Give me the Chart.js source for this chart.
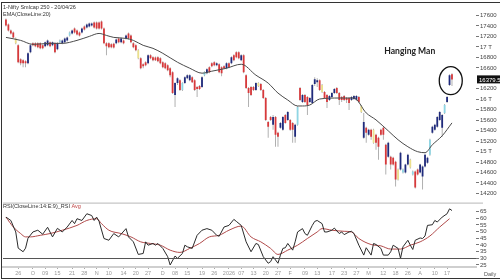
<!DOCTYPE html>
<html>
<head>
<meta charset="utf-8">
<script src="https://cdn.jsdelivr.net/npm/chart.js@4.4.1/dist/chart.umd.min.js"></script>
<style>
  html, body { margin: 0; padding: 0; background: #fff; }
  #wrap { position: relative; width: 500px; height: 280px; overflow: hidden; background: #fff; }
  #price { position: absolute; left: 0; top: 0; }
  #rsi { position: absolute; left: 0; top: 199px; }
  #frame { position: absolute; left: 1px; top: 2px; width: 499px; height: 275px;
           border-top: 1px solid #333; border-left: 1px solid #333; border-bottom: 1px solid #333;
           pointer-events: none; }
</style>
</head>
<body>
<div id="wrap">
  <canvas id="price" width="500" height="206"></canvas>
  <canvas id="rsi" width="500" height="81"></canvas>
  <div id="frame"></div>
</div>
<script>
// x axis date labels and the candle index they sit under
const dateLabels = ["26","O","09","15","21","28","N","10","14","20","27","D","08","15","19","26","2026","07","13","20","27","F","09","13","17","23","27","M","12","18","26","A","10","17"];
const labelAt = [5,11,16,21,27,32,37,42,48,53,58,64,69,74,80,85,91,96,101,106,111,116,122,127,133,138,143,148,154,159,164,169,175,180];

// daily candles, Nifty Smallcap 250
const open = [17524,17429,17315,17277,17163,17030,16764,16745,16726,16688,
  16897,17068,17068,17068,17068,17030,17011,17030,17087,17030,
  17068,16954,17087,17068,17087,17125,17220,17258,17353,17315,
  17277,17277,17391,17372,17391,17410,17467,17467,17467,17486,
  17353,17068,17068,17049,17060,17068,17163,17087,17125,17163,
  17258,17220,17068,17030,16935,16783,16669,16707,16688,16840,
  16802,16800,16802,16783,16707,16688,16650,16593,16517,16080,
  16308,16365,16175,16308,16403,16365,16422,16365,16232,16251,
  16232,16460,16498,16612,16688,16707,16650,16669,16612,16631,
  16593,16688,16688,16840,16897,16897,16745,16840,16460,16213,
  16232,16232,16175,16308,16289,16175,16023,15567,15662,15510,
  15662,15358,15453,15415,15700,15605,15605,15548,15282,15510,
  16213,15947,16080,16042,15947,15928,16289,16327,16365,16270,
  16137,16080,15985,16042,16118,16213,16118,16042,16061,16023,
  16023,15985,16004,15985,16042,15871,15263,15453,15320,15415,
  15415,15320,15263,15415,15453,15130,14902,14902,14883,14807,
  14655,14655,14598,14598,14750,14845,14560,14617,14655,14598,
  14522,14712,14788,14940,15358,15415,15472,15605,15453,15738,
  15947,16270,16479];
const high = [17543,17448,17334,17296,17182,17049,16783,16764,16745,16897,
  17049,17087,17087,17087,17087,17049,17106,17144,17106,17106,
  17087,17087,17144,17144,17182,17201,17296,17334,17372,17334,
  17296,17372,17410,17448,17467,17467,17486,17486,17486,17505,
  17372,17087,17087,17068,17080,17163,17182,17182,17144,17239,
  17277,17239,17087,17049,16954,16802,16688,16726,16859,16859,
  16821,16815,16821,16802,16726,16707,16669,16612,16536,16327,
  16422,16384,16327,16441,16479,16479,16441,16384,16251,16270,
  16441,16536,16593,16631,16707,16726,16707,16688,16631,16650,
  16707,16707,16821,16859,16916,16916,16859,16859,16479,16232,
  16251,16251,16327,16327,16308,16194,16042,15586,15681,15700,
  15681,15377,15567,15681,15719,15776,15624,15567,15529,15871,
  16232,16099,16099,16061,16042,16289,16422,16403,16384,16289,
  16156,16099,16080,16137,16213,16232,16137,16061,16080,16042,
  16042,16061,16080,16080,16061,15890,15738,15472,15434,15434,
  15434,15339,15282,15434,15472,15149,15187,14921,14902,14826,
  14674,14997,14674,14769,14959,14864,14636,14636,14674,14769,
  14731,14959,14902,15244,15491,15529,15681,15776,15719,15909,
  16061,16479,16498];
const low = [17391,17296,17239,17163,17049,16688,16650,16612,16612,16669,
  16878,17011,16992,16973,16954,16954,16992,17011,16992,17011,
  16878,16935,17068,17049,17068,17106,17201,17239,17258,17220,
  17201,17258,17315,17353,17372,17391,17353,17334,17334,17334,
  17049,16840,16973,16973,16970,17049,17068,17068,17049,17144,
  17144,17068,16973,16916,16764,16574,16593,16631,16669,16764,
  16726,16730,16707,16669,16593,16574,16536,16422,16099,15852,
  16270,16156,16156,16289,16384,16346,16308,16156,16042,16175,
  16213,16441,16479,16498,16612,16631,16631,16498,16441,16574,
  16574,16593,16669,16726,16783,16764,16726,16498,16194,15852,
  16061,16156,16156,16232,16156,16004,15586,15263,15586,15415,
  15092,15092,15434,15396,15529,15586,15396,15168,15168,15491,
  15966,15928,15928,15700,15928,15909,16251,16232,16156,16118,
  16004,15833,15966,16023,16099,16099,15890,15947,15966,15928,
  15795,15966,15985,15966,15928,15738,15244,15168,15301,15225,
  15149,15035,14845,15301,15225,14560,14883,14655,14731,14332,
  14446,14636,14579,14579,14731,14674,14541,14294,14541,14579,
  14275,14693,14769,14921,15339,15396,15453,15586,15282,15719,
  15928,16251,16251];
const close = [17410,17315,17258,17182,17068,16707,16688,16688,16688,16878,
  17030,17030,17011,16992,16973,16973,17087,17125,17011,17087,
  16897,17068,17125,17125,17163,17182,17277,17315,17277,17239,
  17220,17353,17334,17429,17448,17448,17372,17353,17353,17353,
  17068,17011,16992,16992,16990,17144,17087,17163,17068,17220,
  17163,17087,16992,16935,16783,16593,16631,16650,16840,16783,
  16745,16745,16726,16688,16612,16593,16555,16460,16118,16308,
  16403,16175,16308,16422,16460,16460,16327,16175,16194,16194,
  16422,16517,16574,16517,16631,16650,16688,16517,16498,16593,
  16688,16612,16802,16745,16802,16783,16840,16517,16213,16118,
  16080,16175,16308,16251,16175,16023,15605,15472,15605,15662,
  15320,15282,15548,15662,15548,15757,15415,15415,15510,15852,
  15985,16080,15947,15890,16023,16270,16384,16365,16175,16137,
  16023,15947,16061,16118,16194,16118,15985,15985,15985,15985,
  15928,16042,16061,16061,15947,15757,15567,15358,15415,15282,
  15168,15168,15092,15320,15320,14750,15168,14750,14750,14465,
  14465,14978,14655,14750,14940,14693,14617,14313,14560,14750,
  14712,14940,14883,15225,15472,15510,15662,15757,15700,15890,
  16042,16460,16379.5];

// candles the software flags with its light colours
const cyanBars = [22,26,72,81,119,162,166,173,179];
const yellowBars = [4,54,103,129,145,150,160,165];

// EMA(20)
const emaIdx = [0,6,11,18,23,29,34,38,41,44,49,52,56,60,64,70,75,80,84,90,96,102,107,111,115,119,121,124,128,136,142,147,151,156,160,164,168,171,174,178,182];
const emaVal = [17182,17125,17049,17068,17068,17125,17201,17258,17220,17182,17163,17125,17030,16973,16878,16707,16593,16498,16536,16593,16669,16460,16308,16118,15985,15871,15871,15890,16004,16023,16023,15738,15605,15396,15225,15092,14997,14978,15130,15301,15548];

// RSI(14) and its 9 period average
const rsiIdx = [0,2,4,5,7,8,9,11,13,15,17,19,21,23,25,27,28,29,31,33,35,36,37,38,40,42,44,46,49,50,52,54,56,57,58,60,61,62,64,66,67,69,70,72,73,74,76,78,80,82,84,86,87,89,91,93,94,96,98,100,102,103,105,107,108,109,111,112,113,114,115,117,118,119,121,122,123,125,126,127,129,130,131,133,134,136,137,138,140,141,142,144,146,147,149,150,151,153,154,156,157,158,160,161,162,164,165,166,167,169,170,171,172,174,175,176,178,180,181,182];
const rsiVal = [60.8,58.3,49.7,37.6,34.9,37.6,45,49.7,51,48,53.2,46,52.4,49.7,53.4,58.3,55.9,59.6,58.3,63.3,62,58.3,60.8,57.6,44.8,43.5,48.5,46,52.2,46,42.3,32.9,33.6,42.3,39.8,41.1,39.8,41.1,37.4,31.2,25,31.7,30,33.6,39.8,38.6,37.4,47.2,51,52.2,51,47.2,46.5,53.4,54.6,59.1,57.6,54.6,42.3,34.9,41.1,40.3,31.2,26.3,27.5,31.2,26.3,32.4,37.4,37.9,41.1,36.1,42.3,49.7,52.2,48.5,47.2,54.6,57.6,58.3,55.9,49.7,49.7,51,52.6,48.5,49.7,47.7,49.7,50.2,48.5,39.8,32.4,37.9,32.4,41.1,40.3,37.4,32.4,32.4,34.9,39.8,37.4,30,38.6,43.5,39.8,36.6,43.5,45.2,44.8,46.7,54.6,55.1,58.3,57.1,60.8,63.3,67,65.7];
const avgIdx = [0,3,6,8,10,14,18,23,29,33,37,39,42,47,51,55,59,63,67,71,75,79,83,87,91,96,100,104,108,111,115,119,123,127,129,133,138,141,144,149,153,157,161,165,169,173,177,181];
const avgVal = [60.8,53.4,48.5,46,46,47.2,48.5,51,54.6,58.3,59.6,55.9,51,48.5,46,42.3,41.1,39.8,36.1,34.4,37.4,41.1,46,47.2,51,54.1,46,42.3,37.4,32.9,36.1,39.8,44.8,49.7,52.2,51,50.2,49.7,44.8,40.3,39.3,36.9,36.9,39.8,42.3,46.7,53.4,59.6];

// axis ticks
const priceTicks = [17600,17400,17200,17000,16800,16600,16200,16000,15800,15600,15400,15200,15000,14800,14600,14400,14200];
const priceTickLabels = ["17600","17400","17200","17 T","16800","16600","16200","16 T","15800","15600","15400","15200","15 T","14800","14600","14400","14200"];
const rsiTicks = [65,60,55,50,45,40,35,30,25];
const rsiLevel = 30;

const N = close.length;
const X_MIN = -1.2, X_MAX = 191.8;
const SMALL = '"Liberation Sans", Arial, sans-serif';

function bodyColor(i) {
  if (cyanBars.includes(i)) return '#8fd6e4';
  if (yellowBars.includes(i)) return '#ece08c';
  return close[i] >= open[i] ? '#1f2a7c' : '#d8393b';
}

const priceDecor = {
  id: 'priceDecor',
  afterDraw(chart) {
    const { ctx, chartArea: a, scales: { x, y } } = chart;
    ctx.save();
    ctx.fillStyle = '#333';
    ctx.font = '5.5px ' + SMALL;
    ctx.textBaseline = 'middle';
    ctx.fillText('1-Nifty Smlcap 250 - 20/04/26', 3, 7.5);
    ctx.fillText('EMA(CloseLine:20)', 3, 14);

    // ring round the last two candles
    const cx = (x.getPixelForValue(N - 2) + x.getPixelForValue(N - 1)) / 2;
    const top = y.getPixelForValue(Math.max(high[N - 1], high[N - 2]));
    const bot = y.getPixelForValue(Math.min(low[N - 1], low[N - 2]));
    const cy = (top + bot) / 2 + 1;
    ctx.beginPath();
    ctx.ellipse(cx, cy, 11.5, 14, 0, 0, Math.PI * 2);
    ctx.strokeStyle = '#111';
    ctx.lineWidth = 1.3;
    ctx.stroke();

    ctx.font = 'bold 10px "Liberation Sans Narrow", "Lato", sans-serif';
    ctx.fillStyle = '#222';
    ctx.textAlign = 'center';
    const label = 'Hanging Man';
    const w = ctx.measureText(label).width;
    const tx = cx - 41, ty = cy - 30;
    ctx.translate(tx, ty);
    if (w > 51) ctx.scale(51 / w, 1);
    ctx.fillText(label, 0, 0);
    ctx.setTransform(1, 0, 0, 1, 0, 0);

    // last price tag on the axis
    const py = y.getPixelForValue(close[N - 1]);
    ctx.fillStyle = '#111';
    ctx.fillRect(a.right + 1, py - 4, 500 - a.right - 1, 8);
    ctx.fillStyle = '#fff';
    ctx.textAlign = 'left';
    ctx.font = '6px ' + SMALL;
    ctx.fillText(String(close[N - 1]), a.right + 3, py + 0.5);
    ctx.restore();
  }
};

const rsiDecor = {
  id: 'rsiDecor',
  afterDraw(chart) {
    const { ctx, chartArea: a, scales: { y } } = chart;
    ctx.save();
    // separator between the two panels
    ctx.strokeStyle = '#b8b8b8';
    ctx.lineWidth = 1;
    ctx.beginPath();
    ctx.moveTo(a.left, a.top - 0.5);
    ctx.lineTo(483, a.top - 0.5);
    ctx.stroke();
    // 30 level
    const ly = Math.round(y.getPixelForValue(rsiLevel)) + 0.5;
    ctx.strokeStyle = '#555';
    ctx.beginPath();
    ctx.moveTo(a.left, ly);
    ctx.lineTo(a.right, ly);
    ctx.stroke();

    ctx.font = '5.5px ' + SMALL;
    ctx.textBaseline = 'middle';
    ctx.fillStyle = '#333';
    const t1 = 'RSI(CloseLine:14:E:9)_RSI';
    ctx.fillText(t1, 3, a.top + 3);
    ctx.fillStyle = '#c04545';
    ctx.fillText(' Avg', 3 + ctx.measureText(t1).width, a.top + 3);
    ctx.fillStyle = '#555';
    ctx.fillText('Daily', 484, 75);
    ctx.restore();
  }
};

const priceChart = new Chart(document.getElementById('price'), {
  type: 'bar',
  data: {
    datasets: [
      {
        type: 'line',
        data: emaIdx.map((v, k) => ({ x: v, y: emaVal[k] })),
        borderColor: '#4a4a4a',
        borderWidth: 1,
        pointRadius: 0,
        cubicInterpolationMode: 'monotone',
        order: 0
      },
      {
        data: close.map((c, i) => ({ x: i, y: [open[i], c] })),
        backgroundColor: close.map((c, i) => bodyColor(i)),
        barThickness: 1.8,
        inflateAmount: 0,
        grouped: false,
        order: 1
      },
      {
        data: close.map((c, i) => ({ x: i, y: [low[i], high[i]] })),
        backgroundColor: '#a8a8a8',
        barThickness: 0.9,
        inflateAmount: 0,
        grouped: false,
        order: 2
      }
    ]
  },
  options: {
    responsive: false,
    animation: false,
    events: [],
    layout: { padding: { left: 3, top: 4, right: 0, bottom: 4 } },
    plugins: { legend: { display: false }, tooltip: { enabled: false } },
    scales: {
      x: { type: 'linear', min: X_MIN, max: X_MAX, offset: false, display: false },
      y: {
        position: 'right',
        min: 14047,
        max: 17809,
        afterBuildTicks: s => { s.ticks = priceTicks.map(v => ({ value: v })); },
        afterFit: s => { s.width = 24; },
        ticks: {
          callback: (v, i) => priceTickLabels[i],
          font: { size: 6, family: SMALL },
          color: '#444',
          padding: 1,
          autoSkip: false
        },
        grid: { drawOnChartArea: false, tickLength: 3, color: '#777' },
        border: { display: false }
      }
    }
  },
  plugins: [priceDecor]
});

const rsiChart = new Chart(document.getElementById('rsi'), {
  type: 'line',
  data: {
    datasets: [
      {
        data: rsiIdx.map((v, k) => ({ x: v, y: rsiVal[k] })),
        borderColor: '#2a2a2a',
        borderWidth: 1,
        pointRadius: 0,
        tension: 0
      },
      {
        data: avgIdx.map((v, k) => ({ x: v, y: avgVal[k] })),
        borderColor: '#b04a4a',
        borderWidth: 1,
        pointRadius: 0,
        cubicInterpolationMode: 'monotone'
      }
    ]
  },
  options: {
    responsive: false,
    animation: false,
    events: [],
    layout: { padding: { left: 3, top: 4, right: 0, bottom: 2 } },
    plugins: { legend: { display: false }, tooltip: { enabled: false } },
    scales: {
      x: {
        type: 'linear',
        min: X_MIN,
        max: X_MAX,
        offset: false,
        afterBuildTicks: s => { s.ticks = labelAt.map(v => ({ value: v })); },
        afterFit: s => { s.height = 11; },
        ticks: {
          callback: (v, i) => dateLabels[i],
          font: { size: 5.5, family: SMALL },
          color: '#999',
          padding: 1,
          autoSkip: false,
          maxRotation: 0
        },
        grid: { drawOnChartArea: false, tickLength: 2, color: '#aaa' },
        border: { color: '#cfcfcf', width: 2 }
      },
      y: {
        position: 'right',
        min: 23.5,
        max: 70.9,
        afterBuildTicks: s => { s.ticks = rsiTicks.map(v => ({ value: v })); },
        afterFit: s => { s.width = 24; },
        ticks: { font: { size: 6, family: SMALL }, color: '#444', padding: 1, autoSkip: false },
        grid: { drawOnChartArea: false, tickLength: 3, color: '#777' },
        border: { display: false }
      }
    }
  },
  plugins: [rsiDecor]
});
</script>
</body>
</html>
